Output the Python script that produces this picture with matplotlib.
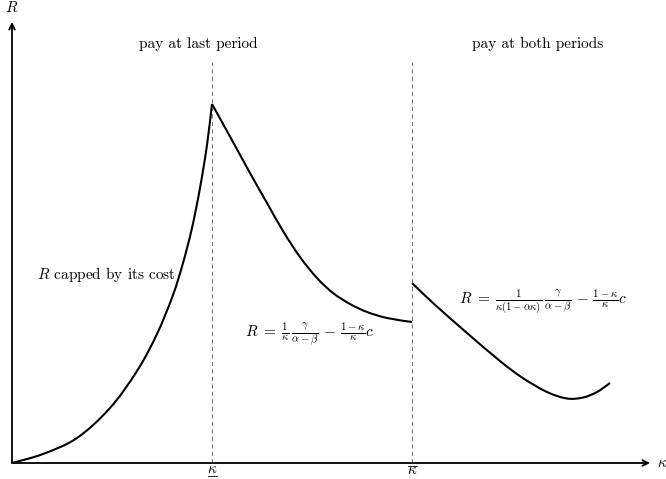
import matplotlib.pyplot as plt
from matplotlib.path import Path
from matplotlib.patches import PathPatch

plt.rcParams["mathtext.fontset"] = "cm"
plt.rcParams["font.family"] = ["cmr10", "DejaVu Serif"]
plt.rcParams["axes.unicode_minus"] = False
plt.rcParams["axes.formatter.use_mathtext"] = True

# cut points on the kappa axis
KAPPA_LO = 2.0
KAPPA_HI = 4.0

# R capped by its cost (rising part)
x_cap = [0.0, 0.31, 0.65, 0.98, 1.25, 1.45, 1.61, 1.71, 1.80, 1.88, 1.95, 2.0]
y_cap = [0.0, 0.09, 0.25, 0.55, 0.92, 1.29, 1.68, 2.00, 2.35, 2.75, 3.18, 3.59]

# pay at last period
x_last = [2.0, 2.21, 2.38, 2.55, 2.71, 2.88, 3.05, 3.21, 3.38, 3.55, 3.75, 4.0]
y_last = [3.59, 3.21, 2.90, 2.60, 2.32, 2.06, 1.85, 1.70, 1.59, 1.51, 1.45, 1.41]

# pay at both periods
x_both = [4.0, 4.21, 4.55, 4.88, 5.10, 5.35, 5.55, 5.71, 5.85, 5.98]
y_both = [1.80, 1.60, 1.30, 1.02, 0.855, 0.71, 0.645, 0.655, 0.71, 0.80]


def smooth_path(xs, ys, tension=1 / 6):
    """Curva suave tipo 'plot[smooth]' de TikZ a traves de los puntos."""
    pts = list(zip(xs, ys))
    verts = [pts[0]]
    codes = [Path.MOVETO]
    n = len(pts)
    for i in range(n - 1):
        p0 = pts[max(i - 1, 0)]
        p1 = pts[i]
        p2 = pts[i + 1]
        p3 = pts[min(i + 2, n - 1)]
        c1 = (p1[0] + (p2[0] - p0[0]) * tension, p1[1] + (p2[1] - p0[1]) * tension)
        c2 = (p2[0] - (p3[0] - p1[0]) * tension, p2[1] - (p3[1] - p1[1]) * tension)
        verts += [c1, c2, p2]
        codes += [Path.CURVE4] * 3
    return Path(verts, codes)


fig = plt.figure(figsize=(6.66, 4.79), dpi=100)
ax = fig.add_axes([0, 0, 1, 1])
ax.set_xlim(-0.12, 6.54)
ax.set_ylim(-0.16, 4.63)
ax.axis("off")

# axes with arrows
ax.annotate("", xy=(6.38, 0), xytext=(0, 0),
            arrowprops=dict(arrowstyle="->", lw=1.3, color="black", shrinkA=0, shrinkB=0))
ax.annotate("", xy=(0, 4.41), xytext=(0, 0),
            arrowprops=dict(arrowstyle="->", lw=1.3, color="black", shrinkA=0, shrinkB=0))
ax.text(6.45, 0, r"$\kappa$", fontsize=11, ha="left", va="center")
ax.text(0.0, 4.48, r"$R$", fontsize=11, ha="center", va="bottom")

# regime boundaries
for k in (KAPPA_LO, KAPPA_HI):
    ax.plot([k, k], [0, 4.01], ls=(0, (5, 4)), lw=0.6, color="#555555")
ax.text(KAPPA_LO, -0.10, r"$\kappa$", fontsize=11, ha="center", va="baseline")
ax.plot([KAPPA_LO - 0.045, KAPPA_LO + 0.045], [-0.125, -0.125], color="black", lw=0.6)
ax.text(KAPPA_HI, -0.115, r"$\kappa$", fontsize=11, ha="center", va="baseline")
ax.plot([KAPPA_HI - 0.045, KAPPA_HI + 0.045], [-0.03, -0.03], color="black", lw=0.6)

# curves
for xs, ys in ((x_cap, y_cap), (x_last, y_last), (x_both, y_both)):
    ax.add_patch(PathPatch(smooth_path(xs, ys), fill=False, edgecolor="black",
                           lw=1.5, joinstyle="round"))

# labels
ax.text(1.86, 4.19, "pay at last period", fontsize=11, ha="center", va="center")
ax.text(5.26, 4.19, "pay at both periods", fontsize=11, ha="center", va="center")
ax.text(1.64, 1.88, r"$R$ capped by its cost", fontsize=11, ha="right", va="center")
ax.text(2.98, 1.29,
        r"$R\;=\;\frac{1}{\kappa}\,\frac{\gamma}{\alpha-\beta}\,-\,\frac{1-\kappa}{\kappa}c$",
        fontsize=11, ha="center", va="center")
ax.text(5.31, 1.61,
        r"$R\;=\;\frac{1}{\kappa(1-\alpha\kappa)}\,\frac{\gamma}{\alpha-\beta}\,-\,\frac{1-\kappa}{\kappa}c$",
        fontsize=11, ha="center", va="center")

fig.savefig("out.png", dpi=100)
